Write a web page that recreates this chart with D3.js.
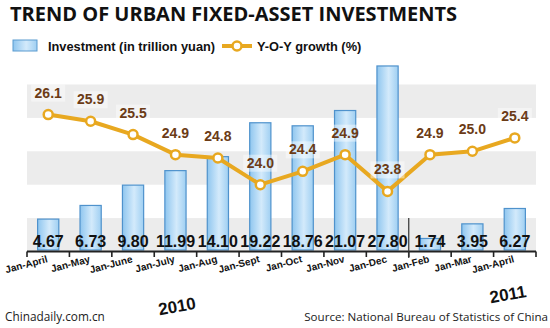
<!DOCTYPE html>
<html>
<head>
<meta charset="utf-8">
<script src="https://cdn.jsdelivr.net/npm/d3@7"></script>
<style>
  body { margin: 0; background: #fff; }
  svg { display: block; }
</style>
</head>
<body>
<div id="chart"></div>
<script>
// Period labels, investment totals and year-on-year growth
const categories = ["Jan-April", "Jan-May", "Jan-June", "Jan-July", "Jan-Aug", "Jan-Sept",
                    "Jan-Oct", "Jan-Nov", "Jan-Dec", "Jan-Feb", "Jan-Mar", "Jan-April"];
const investment = [4.67, 6.73, 9.80, 11.99, 14.10, 19.22, 18.76, 21.07, 27.80, 1.74, 3.95, 6.27];
const growth = [26.1, 25.9, 25.5, 24.9, 24.8, 24.0, 24.4, 24.9, 23.8, 24.9, 25.0, 25.4];
const years = ["2010", "2011"];

const width = 550;
const height = 328;
const margin = {top: 84, right: 14, bottom: 78, left: 27};
const axisY = 251.5;

const svg = d3.select("#chart").append("svg")
    .attr("width", width)
    .attr("height", height);

const defs = svg.append("defs");
const grad = defs.append("linearGradient").attr("id", "barFill")
    .attr("x1", "0%").attr("x2", "100%").attr("y1", "0%").attr("y2", "0%");
grad.append("stop").attr("offset", "0%").attr("stop-color", "#8fc6ef");
grad.append("stop").attr("offset", "55%").attr("stop-color", "#d3eafb");
grad.append("stop").attr("offset", "100%").attr("stop-color", "#9fcff2");

const idx = categories.map((d, i) => i);

// bar positions (narrow) and full category bands
const x = d3.scaleBand()
    .domain(idx)
    .range([margin.left, width - margin.right])
    .paddingInner(0.5)
    .paddingOuter(0.25);

const xb = d3.scaleBand()
    .domain(idx)
    .range([margin.left, width - margin.right]);

const yBar = d3.scaleLinear()
    .domain([0, 30])
    .range([250, 51.4]);

const yLine = d3.scaleLinear()
    .domain([22, 27])
    .range([251.5, 84.5]);

// Title
svg.append("text")
    .attr("x", 10)
    .attr("y", 21)
    .attr("font-family", "Open Sans, sans-serif")
    .attr("font-weight", "bold")
    .attr("font-size", 20)
    .attr("fill", "#111")
    .text("TREND OF URBAN FIXED-ASSET INVESTMENTS");

// Legend
const legend = svg.append("g").attr("font-family", "Liberation Sans, Arial, sans-serif")
    .attr("font-weight", "bold").attr("font-size", 12.8).attr("fill", "#111");
legend.append("rect")
    .attr("x", 13).attr("y", 40).attr("width", 24).attr("height", 11)
    .attr("fill", "url(#barFill)").attr("stroke", "#5b9bd0").attr("stroke-width", 1);
legend.append("text").attr("x", 48).attr("y", 51).text("Investment (in trillion yuan)");
legend.append("line")
    .attr("x1", 222).attr("x2", 252).attr("y1", 46).attr("y2", 46)
    .attr("stroke", "#e8a820").attr("stroke-width", 4);
legend.append("circle")
    .attr("cx", 237).attr("cy", 46).attr("r", 4.5)
    .attr("fill", "#fff").attr("stroke", "#e8a820").attr("stroke-width", 2.5);
legend.append("text").attr("x", 257).attr("y", 51).text("Y-O-Y growth (%)");

// Alternating background bands
svg.append("g")
    .selectAll("rect")
    .data([22, 24, 26])
    .join("rect")
    .attr("x", margin.left)
    .attr("width", width - margin.right - margin.left)
    .attr("y", d => yLine(d + 1))
    .attr("height", d => yLine(d) - yLine(d + 1))
    .attr("fill", "#ececec");

// Bars
svg.append("g")
    .selectAll("rect")
    .data(investment)
    .join("rect")
    .attr("x", (d, i) => x(i))
    .attr("y", d => yBar(d))
    .attr("width", x.bandwidth())
    .attr("height", d => yBar(0) - yBar(d))
    .attr("fill", "url(#barFill)")
    .attr("stroke", "#4f92cc")
    .attr("stroke-width", 1.2);

// Bar values
svg.append("g")
    .selectAll("text")
    .data(investment)
    .join("text")
    .attr("x", (d, i) => xb(i) + xb.bandwidth() / 2)
    .attr("y", 247)
    .attr("text-anchor", "middle")
    .attr("font-family", "Liberation Sans, Arial, sans-serif")
    .attr("font-weight", "bold")
    .attr("font-size", 16)
    .attr("fill", "#111")
    .text(d => d.toFixed(2));

// X axis
const axis = svg.append("g")
    .attr("transform", `translate(0,${axisY})`);
axis.append("line")
    .attr("x1", margin.left).attr("x2", width - margin.right)
    .attr("stroke", "#222").attr("stroke-width", 2);
axis.selectAll(".tick")
    .data(d3.range(categories.length + 1))
    .join("line")
    .attr("class", "tick")
    .attr("x1", i => margin.left + i * xb.step())
    .attr("x2", i => margin.left + i * xb.step())
    .attr("y1", 0).attr("y2", 5.5)
    .attr("stroke", "#222").attr("stroke-width", 1.6);

// Separator between the two years
svg.append("line")
    .attr("x1", xb(9)).attr("x2", xb(9))
    .attr("y1", 218).attr("y2", 258)
    .attr("stroke", "#333").attr("stroke-width", 1.2);

// Period labels
svg.append("g")
    .selectAll("text")
    .data(categories)
    .join("text")
    .attr("transform", (d, i) => `translate(${xb(i) + xb.bandwidth() / 2},262) rotate(-15)`)
    .attr("text-anchor", "end")
    .attr("font-family", "Liberation Sans, Arial, sans-serif")
    .attr("font-weight", "bold")
    .attr("font-size", 10)
    .attr("fill", "#111")
    .text(d => d);

// Year labels
const yearPos = [[178, 312], [509, 300]];
svg.append("g")
    .selectAll("text")
    .data(years)
    .join("text")
    .attr("transform", (d, i) => `translate(${yearPos[i][0]},${yearPos[i][1]}) rotate(-10)`)
    .attr("text-anchor", "middle")
    .attr("font-family", "Liberation Sans, Arial, sans-serif")
    .attr("font-weight", "bold")
    .attr("font-size", 17)
    .attr("fill", "#111")
    .text(d => d);

// Growth line
const line = d3.line()
    .x((d, i) => xb(i) + xb.bandwidth() / 2)
    .y(d => yLine(d));

svg.append("path")
    .datum(growth)
    .attr("d", line)
    .attr("fill", "none")
    .attr("stroke", "#e8a820")
    .attr("stroke-width", 4)
    .attr("stroke-linejoin", "round");

svg.append("g")
    .selectAll("circle")
    .data(growth)
    .join("circle")
    .attr("cx", (d, i) => xb(i) + xb.bandwidth() / 2)
    .attr("cy", d => yLine(d))
    .attr("r", 4.5)
    .attr("fill", "#fff")
    .attr("stroke", "#e8a820")
    .attr("stroke-width", 2.5);

// Growth labels with a pale backing
const gl = svg.append("g")
    .selectAll("g")
    .data(growth)
    .join("g")
    .attr("transform", (d, i) => `translate(${xb(i) + xb.bandwidth() / 2},${yLine(d) - 17})`);
gl.append("rect")
    .attr("x", -17).attr("y", -13).attr("width", 34).attr("height", 17)
    .attr("fill", "#fff").attr("opacity", 0.45);
gl.append("text")
    .attr("text-anchor", "middle")
    .attr("font-family", "Liberation Sans, Arial, sans-serif")
    .attr("font-weight", "bold")
    .attr("font-size", 14)
    .attr("fill", "#6b3b16")
    .text(d => d.toFixed(1));

// Footer
svg.append("text")
    .attr("x", 5).attr("y", 321)
    .attr("font-family", "Open Sans, sans-serif")
    .attr("font-size", 11.8)
    .attr("fill", "#222")
    .text("Chinadaily.com.cn");
svg.append("text")
    .attr("x", 548).attr("y", 321)
    .attr("text-anchor", "end")
    .attr("font-family", "Open Sans, sans-serif")
    .attr("font-size", 11.6)
    .attr("fill", "#222")
    .text("Source: National Bureau of Statistics of China");
</script>
</body>
</html>
